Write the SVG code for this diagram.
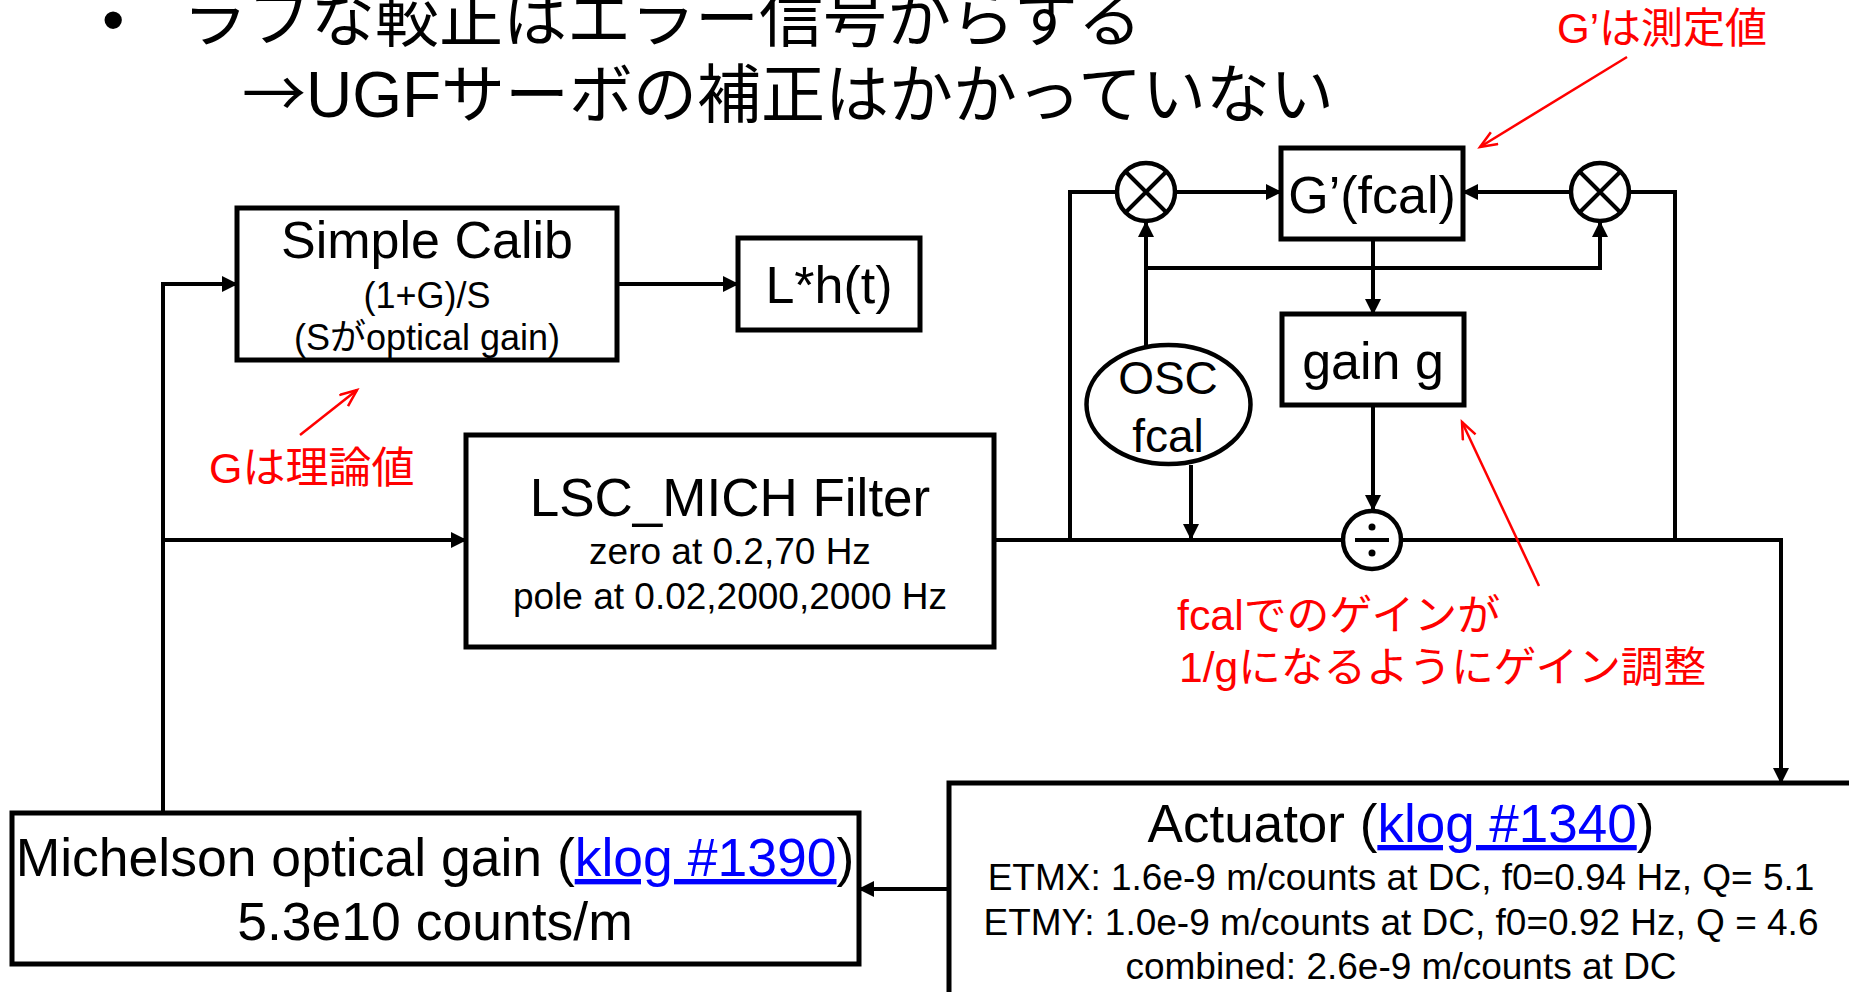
<svg xmlns="http://www.w3.org/2000/svg" width="1849" height="992" viewBox="0 0 1849 992">
<style>
text{font-family:"Liberation Sans","Noto Sans CJK JP",sans-serif;fill:#000}
.box{fill:#fff;stroke:#000;stroke-width:5}
.c{stroke:#000;stroke-width:4;fill:none}
.a{marker-end:url(#ah)}
.red{fill:#f00}
.rl{stroke:#f00;stroke-width:2.5;fill:none;marker-end:url(#rh)}
.lk{fill:#00f;text-decoration:underline}
.m{text-anchor:middle}
.op{fill:#fff;stroke:#000;stroke-width:4.5}
</style>
<defs>
<marker id="ah" markerWidth="16" markerHeight="16" refX="15" refY="8" orient="auto" markerUnits="userSpaceOnUse"><path d="M0,0 L16,8 L0,16 z" fill="#000"/></marker>
<marker id="rh" markerWidth="22" markerHeight="18" refX="19" refY="8" orient="auto" markerUnits="userSpaceOnUse"><path d="M2,1 L19,8 L2,15" fill="none" stroke="#f00" stroke-width="2.5"/></marker>
</defs>
<rect width="1849" height="992" fill="#fff"/>

<g id="title">
<text x="102" y="42" font-size="64">•</text>
<text x="183" y="41" font-size="64">ラフな較正はエラー信号からする</text>
<text x="242" y="117" font-size="64"><tspan font-family="Noto Sans CJK JP">→</tspan>UGFサーボの補正はかかっていない</text>
</g>

<g id="connectors">
<path class="c a" d="M163,812 V284 H237"/>
<path class="c a" d="M163,540 H466"/>
<path class="c a" d="M617,284 H738"/>
<path class="c" d="M994,540 H1343"/>
<path class="c a" d="M1401,540 H1781 V783"/>
<path class="c a" d="M949,889 H859"/>
<path class="c" d="M1070,540 V192 H1117"/>
<path class="c" d="M1675,540 V192 H1629"/>
<path class="c a" d="M1175,192 H1281"/>
<path class="c a" d="M1571,192 H1463"/>
<path class="c a" d="M1146,346 V222"/>
<path class="c a" d="M1146,268 H1600 V222"/>
<path class="c a" d="M1373,239 V314"/>
<path class="c a" d="M1373,405 V510"/>
<path class="c a" d="M1191,465 V539"/>
</g>

<g id="simple-calib">
<rect class="box" x="237" y="208" width="380" height="152"/>
<text class="m" x="427" y="258" font-size="52">Simple Calib</text>
<text class="m" x="427" y="308" font-size="36">(1+G)/S</text>
<text class="m" x="427" y="350" font-size="36">(Sがoptical gain)</text>
</g>

<g id="lht">
<rect class="box" x="738" y="238" width="182" height="92"/>
<text class="m" x="829" y="303" font-size="52">L*h(t)</text>
</g>

<g id="lsc-mich">
<rect class="box" x="466" y="435" width="528" height="212"/>
<text class="m" x="730" y="516" font-size="53">LSC_MICH Filter</text>
<text class="m" x="730" y="564" font-size="37">zero at 0.2,70 Hz</text>
<text class="m" x="730" y="609" font-size="37">pole at 0.02,2000,2000 Hz</text>
</g>

<g id="gprime">
<rect class="box" x="1281" y="148" width="182" height="91"/>
<text class="m" x="1372" y="213" font-size="52">G’(fcal)</text>
</g>

<g id="gain">
<rect class="box" x="1282" y="314" width="182" height="91"/>
<text class="m" x="1373" y="379" font-size="52">gain g</text>
</g>

<g id="osc">
<ellipse class="op" cx="1168.5" cy="404.5" rx="82" ry="59.5"/>
<text class="m" x="1168" y="394" font-size="46">OSC</text>
<text class="m" x="1168" y="452" font-size="46">fcal</text>
</g>

<g id="mult-left">
<circle class="op" cx="1146" cy="192" r="29"/>
<path class="c" d="M1125.5,171.5 L1166.5,212.5 M1166.5,171.5 L1125.5,212.5"/>
</g>

<g id="mult-right">
<circle class="op" cx="1600" cy="192" r="29"/>
<path class="c" d="M1579.5,171.5 L1620.5,212.5 M1620.5,171.5 L1579.5,212.5"/>
</g>

<g id="divide">
<circle class="op" cx="1372" cy="540" r="29"/>
<path class="c" d="M1355,540 H1389"/>
<circle cx="1372" cy="527" r="3.5" fill="#000"/>
<circle cx="1372" cy="553" r="3.5" fill="#000"/>
</g>

<g id="actuator">
<rect class="box" x="949" y="783" width="960" height="260"/>
<text class="m" x="1401" y="842" font-size="53">Actuator (<tspan class="lk">klog #1340</tspan>)</text>
<text class="m" x="1401" y="890" font-size="37">ETMX: 1.6e-9 m/counts at DC, f0=0.94 Hz, Q= 5.1</text>
<text class="m" x="1401" y="935" font-size="37">ETMY: 1.0e-9 m/counts at DC, f0=0.92 Hz, Q = 4.6</text>
<text class="m" x="1401" y="979" font-size="37">combined: 2.6e-9 m/counts at DC</text>
</g>

<g id="michelson">
<rect class="box" x="12" y="813" width="847" height="151"/>
<text class="m" x="435" y="876" font-size="53.5">Michelson optical gain (<tspan class="lk">klog #1390</tspan>)</text>
<text class="m" x="435" y="940" font-size="53.5">5.3e10 counts/m</text>
</g>

<g id="annotations">
<text class="red" x="1557" y="43" font-size="42">G’は測定値</text>
<path class="rl" d="M1627,57 L1480,147"/>
<text class="red" x="209" y="483" font-size="43">Gは理論値</text>
<path class="rl" d="M300,435 L357,390"/>
<text class="red" x="1177" y="630" font-size="42" textLength="323" lengthAdjust="spacingAndGlyphs">fcalでのゲインが</text>
<text class="red" x="1179" y="682" font-size="42" textLength="527" lengthAdjust="spacingAndGlyphs">1/gになるようにゲイン調整</text>
<path class="rl" d="M1539,586 L1462,422"/>
</g>
</svg>
